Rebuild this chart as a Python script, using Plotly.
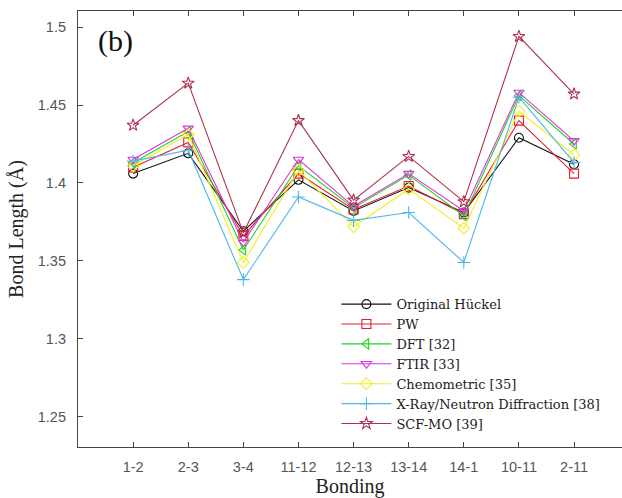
import plotly.graph_objects as go

bonds = ["1-2", "2-3", "3-4", "11-12", "12-13", "13-14", "14-1", "10-11", "2-11"]

original_huckel = [1.406, 1.419, 1.369, 1.402, 1.382, 1.397, 1.381, 1.429, 1.412]
pw = [1.410, 1.426, 1.366, 1.406, 1.383, 1.398, 1.380, 1.440, 1.406]
dft = [1.413, 1.433, 1.357, 1.411, 1.384, 1.405, 1.379, 1.456, 1.425]
ftir = [1.415, 1.435, 1.362, 1.415, 1.385, 1.406, 1.382, 1.458, 1.427]
chemometric = [1.411, 1.431, 1.349, 1.408, 1.372, 1.396, 1.371, 1.446, 1.418]
xray_neutron = [1.414, 1.421, 1.338, 1.391, 1.376, 1.381, 1.349, 1.455, 1.413]
scf_mo = [1.437, 1.464, 1.368, 1.440, 1.389, 1.417, 1.388, 1.494, 1.457]

series = [
    ("Original Hückel", original_huckel, "#111111", "circle-open"),
    ("PW", pw, "#e0202a", "square-open"),
    ("DFT [32]", dft, "#22d422", "triangle-left-open"),
    ("FTIR [33]", ftir, "#e030e0", "triangle-down-open"),
    ("Chemometric [35]", chemometric, "#f2ee1e", "diamond-open"),
    ("X-Ray/Neutron Diffraction [38]", xray_neutron, "#4db8e8", "cross-thin-open"),
    ("SCF-MO [39]", scf_mo, "#b03050", "star-open"),
]

xpos = list(range(1, len(bonds) + 1))

fig = go.Figure()
for name, vals, color, symbol in series:
    fig.add_trace(go.Scatter(
        x=xpos, y=vals, name=name, mode="lines+markers",
        line=dict(color=color, width=1.1),
        marker=dict(symbol=symbol, size=9, color=color,
                    line=dict(color=color, width=1.1)),
    ))

axis_color = "#444444"
serif = "Times New Roman, Liberation Serif, serif"
tick_font = dict(family="Liberation Sans, Arial, sans-serif", size=14.5, color="#555555")
title_font = dict(family=serif, size=20, color="#222222")

fig.update_layout(
    width=622, height=498,
    margin=dict(l=78, r=0, t=11, b=51),
    paper_bgcolor="white", plot_bgcolor="white",
    showlegend=True,
    legend=dict(
        x=0.475, y=0.362, xanchor="left", yanchor="top",
        bgcolor="rgba(255,255,255,0)", borderwidth=0,
        font=dict(family="DejaVu Serif, serif", size=13, color="#222222"),
        itemwidth=50, tracegroupgap=0, itemsizing="trace",
    ),
    xaxis=dict(
        range=[0, 9.87], tickmode="array", tickvals=xpos, ticktext=bonds,
        showgrid=False, zeroline=False,
        showline=True, linecolor=axis_color, linewidth=1.2, mirror="ticks",
        ticks="inside", ticklen=5, tickcolor=axis_color,
        tickfont=tick_font, ticklabelstandoff=6,
        title=dict(text="Bonding", font=title_font, standoff=4),
    ),
    yaxis=dict(
        range=[1.2306, 1.5103], tickmode="array",
        tickvals=[1.25, 1.3, 1.35, 1.4, 1.45, 1.5],
        ticktext=["1.25", "1.3", "1.35", "1.4", "1.45", "1.5"],
        showgrid=False, zeroline=False,
        showline=True, linecolor=axis_color, linewidth=1.2,
        ticks="inside", ticklen=5, tickcolor=axis_color,
        tickfont=tick_font, ticklabelstandoff=8,
        title=dict(text="Bond Length (Å)", font=title_font, standoff=8),
    ),
    annotations=[dict(
        text="(b)", xref="paper", yref="paper", x=0.033, y=0.975,
        xanchor="left", yanchor="top", showarrow=False,
        font=dict(family=serif, size=30, color="#111111"),
    )],
)

fig.write_html("out.html")
